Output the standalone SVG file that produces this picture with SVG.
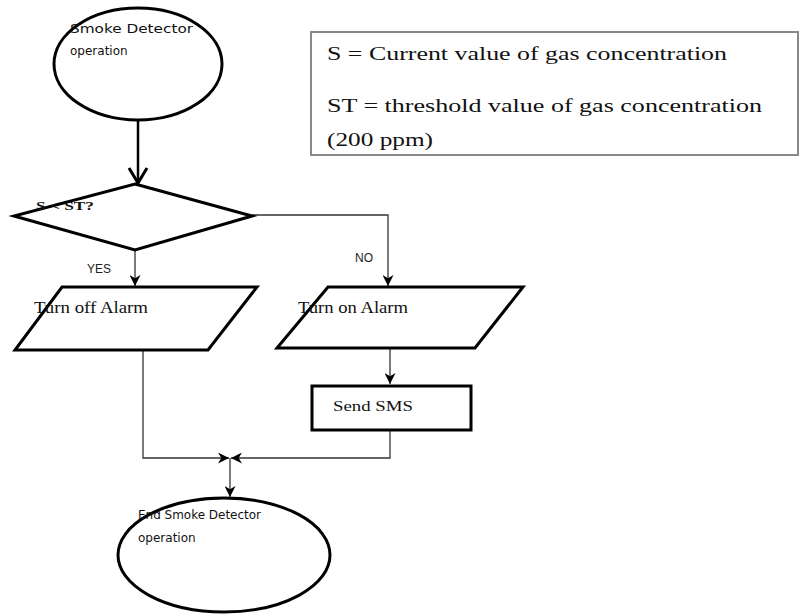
<svg xmlns="http://www.w3.org/2000/svg" width="800" height="615" viewBox="0 0 800 615">
<defs>
<style>
.shape{fill:#fff;stroke:#000;stroke-width:3}
.conn{fill:none;stroke:#333;stroke-width:1.3}
.sans{font-family:"DejaVu Sans","Liberation Sans",sans-serif;font-size:12px;fill:#111}
.serif{font-family:"Liberation Serif","Times New Roman",serif;fill:#111}
.lbl{font-family:"Liberation Sans",Arial,sans-serif;font-size:12px;fill:#222}
</style>
<marker id="ah" viewBox="0 0 10 10" refX="10" refY="5" markerWidth="11" markerHeight="11" markerUnits="userSpaceOnUse" orient="auto">
<path d="M0,0 L10,5 L0,10 L3,5 Z" fill="#000"/>
</marker>
</defs>
<rect width="800" height="615" fill="#fff"/>

<g id="legend">
<rect x="311" y="32" width="487" height="123" fill="#fff" stroke="#888" stroke-width="2"/>
<text class="serif" x="327" y="60" font-size="19" textLength="400" lengthAdjust="spacingAndGlyphs">S = Current value of gas concentration</text>
<text class="serif" x="327" y="112" font-size="19" textLength="435" lengthAdjust="spacingAndGlyphs">ST = threshold value of gas concentration</text>
<text class="serif" x="327" y="146" font-size="19" textLength="106" lengthAdjust="spacingAndGlyphs">(200 ppm)</text>
</g>

<g id="connectors">
<line x1="138" y1="120" x2="138" y2="183" stroke="#000" stroke-width="2.5"/>
<polyline points="129,168 138,183 147,168" fill="none" stroke="#000" stroke-width="3"/>
<line class="conn" x1="135" y1="250" x2="135" y2="286" marker-end="url(#ah)"/>
<polyline class="conn" points="252,215 388,215 388,286" marker-end="url(#ah)"/>
<line class="conn" x1="390" y1="349" x2="390" y2="384" marker-end="url(#ah)"/>
<polyline class="conn" points="143,350 143,458 229,458" marker-end="url(#ah)"/>
<polyline class="conn" points="390,430 390,458 231,458" marker-end="url(#ah)"/>
<line class="conn" x1="230" y1="458" x2="230" y2="497" marker-end="url(#ah)"/>
<text class="lbl" x="87" y="273">YES</text>
<text class="lbl" x="355" y="262">NO</text>
</g>

<g id="start">
<ellipse class="shape" cx="138" cy="64" rx="84" ry="56"/>
<text class="sans" x="70" y="33" textLength="123" lengthAdjust="spacingAndGlyphs">Smoke Detector</text>
<text class="sans" x="70" y="55">operation</text>
</g>

<g id="decision">
<polygon class="shape" points="135,184 252,216 135,250 14,216"/>
<text class="serif" x="36" y="210" font-size="13" font-weight="bold" textLength="58" lengthAdjust="spacingAndGlyphs">S &lt; ST?</text>
</g>

<g id="turn-off">
<polygon class="shape" points="62,287 257,287 208,350 15,350"/>
<text class="serif" x="34" y="313" font-size="16" textLength="114" lengthAdjust="spacingAndGlyphs">Turn off Alarm</text>
</g>

<g id="turn-on">
<polygon class="shape" points="328,287 523,287 475,348 277,348"/>
<text class="serif" x="298" y="313" font-size="16" textLength="110" lengthAdjust="spacingAndGlyphs">Turn on Alarm</text>
</g>

<g id="send-sms">
<rect class="shape" x="312" y="386" width="159" height="44"/>
<text class="serif" x="333" y="411" font-size="15" textLength="80" lengthAdjust="spacingAndGlyphs">Send SMS</text>
</g>

<g id="end">
<ellipse class="shape" cx="224" cy="555" rx="106" ry="57"/>
<text class="sans" x="138" y="519" textLength="123" lengthAdjust="spacingAndGlyphs">End Smoke Detector</text>
<text class="sans" x="138" y="542">operation</text>
</g>
</svg>
